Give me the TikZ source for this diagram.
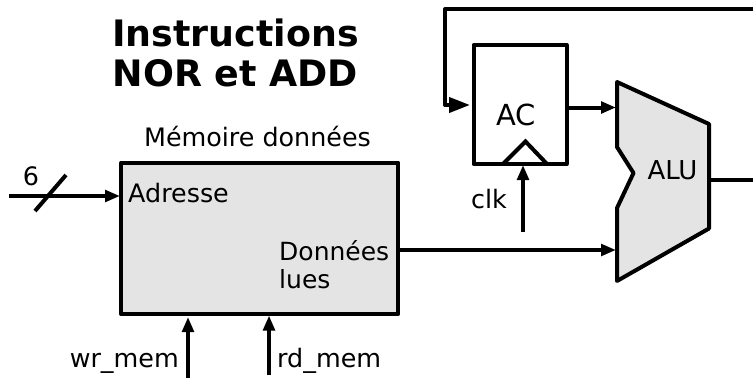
\documentclass[tikz,border=0pt]{standalone}
\usepackage{fontspec}
\setmainfont{DejaVu Sans}
\usetikzlibrary{arrows.meta}
\tikzset{
  x=1pt,y=-1pt,
  wire/.style={line width=4pt,-{Triangle[length=15pt,width=11.5pt]}},
  plain/.style={line width=4pt},
  block/.style={draw,line width=4pt,line join=round,outer sep=0pt},
  lbl/.style={inner sep=0pt,font=\fontsize{25.4}{25.4}\selectfont},
  title/.style={inner sep=0pt,align=center,font=\fontsize{36.4}{40}\selectfont\bfseries}
}
\definecolor{fillgray}{gray}{0.895}
\begin{document}
\begin{tikzpicture}
\useasboundingbox (0,0) rectangle (753,380);
\node[title] (t) at (235.5,52.5) {Instructions\\NOR et ADD};
\node[lbl,anchor=base] (mlabel) at (257.5,146) {Mémoire données};
\node[block,fill=fillgray,minimum width=277pt,minimum height=151.5pt,inner sep=0pt,anchor=north west] (mem) at (121.3,162.5) {};
\node[lbl,anchor=base west] (adr) at (128,202) {Adresse};
\node[lbl,anchor=base west,font=\fontsize{25}{25}\selectfont] (don) at (279,260) {Données};
\node[lbl,anchor=base west,font=\fontsize{25}{25}\selectfont] (lues) at (279,288.5) {lues};
\node[lbl,anchor=base] (six) at (31,185) {6};
\coordinate (ain) at (9,196);
\coordinate (aend) at (120,196);
\draw[wire] (ain) -- (aend);
\coordinate (ta) at (35,211);
\coordinate (tb) at (66,175);
\draw[plain] (ta) -- (tb);
\node[lbl,anchor=base east] (wr) at (179,367) {wr\_mem};
\node[lbl,anchor=base west] (rd) at (277,367) {rd\_mem};
\coordinate (wb) at (188,378);
\coordinate (wt) at (188,317);
\coordinate (rb) at (269,375);
\coordinate (rt) at (269,315.5);
\draw[wire] (wb) -- (wt);
\draw[wire] (rb) -- (rt);
% AC
\node[block,minimum width=93pt,minimum height=119pt,inner sep=0pt,anchor=north west] (ac) at (473.5,45) {};
\node[lbl,anchor=base,font=\fontsize{29}{29}\selectfont] (aclbl) at (516,125) {AC};
\coordinate (c1) at (503,164);
\coordinate (c2) at (525.5,141.5);
\coordinate (c3) at (547,164);
\draw[plain,line join=miter] (c1) -- (c2) -- (c3);
\node[lbl,anchor=base] (clk) at (489,208) {clk};
\coordinate (cb) at (523,232);
\coordinate (ct) at (523,165);
\draw[wire] (cb) -- (ct);
% ALU
\coordinate (a1) at (617,82);
\coordinate (a2) at (709,124);
\coordinate (a3) at (709,228.5);
\coordinate (a4) at (617,281);
\coordinate (a5) at (617,208);
\coordinate (a6) at (633.5,173);
\coordinate (a7) at (617,147);
\draw[block,fill=fillgray] (a1) -- (a2) -- (a3) -- (a4) -- (a5) -- (a6) -- (a7) -- cycle;
\node[lbl,anchor=base,font=\fontsize{26}{26}\selectfont] (alu) at (672.5,179) {ALU};
% connectors
\coordinate (f0) at (753,9);
\coordinate (f1) at (445,9);
\coordinate (f2) at (445,105);
\coordinate (f3) at (470,105);
\draw[line width=4pt,line join=round,-{Triangle[length=21pt,width=15pt]}] (f0) -- (f1) -- (f2) -- (f3);
\coordinate (acout) at (568,107.5);
\coordinate (alua) at (616,107.5);
\draw[wire] (acout) -- (alua);
\coordinate (memout) at (400,250);
\coordinate (alub) at (616,250);
\draw[wire] (memout) -- (alub);
\coordinate (aluout) at (710,180);
\coordinate (outend) at (753,180);
\draw[line width=3.2pt] (aluout) -- (outend);
\end{tikzpicture}
\end{document}
